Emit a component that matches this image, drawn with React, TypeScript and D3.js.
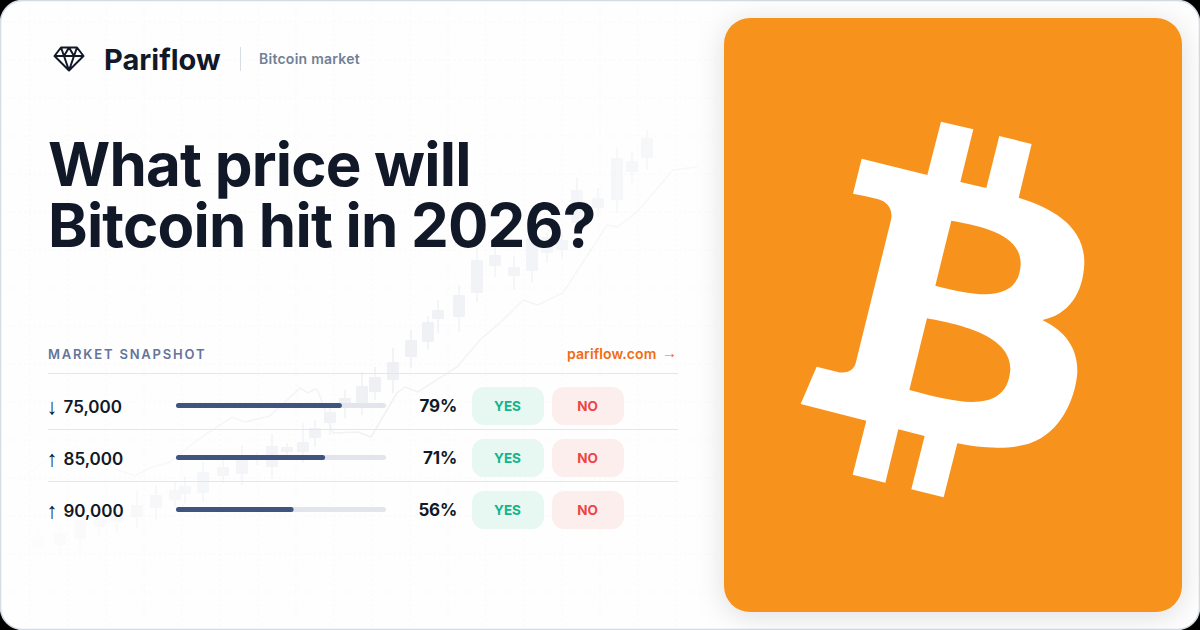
import * as d3 from 'd3'

const FONT = 'Inter, sans-serif'
const ARROW_FONT = '"Liberation Sans", sans-serif'

// snapshot table
const rowArrows = ['↓', '↑', '↑']
const rowTargets = ['75,000', '85,000', '90,000']
const rowPercents = [79, 71, 56]

// background candles, time in chart units, prices in chart units
const candleTime = [18, 40, 60, 79, 97, 117, 136, 155, 165, 183, 203, 222, 237, 252, 267, 283, 295, 310, 325, 342, 355, 373, 391, 408, 418, 439, 457, 475, 494, 512, 527, 542, 557, 578, 597, 612, 627]
const candleHigh = [32, 33, 48, 50, 53, 70, 75, 79, 83, 98, 100, 115, 108, 126, 117, 137, 140, 157, 170, 188, 193, 212, 230, 244, 260, 275, 312, 322, 304, 330, 328, 327, 383, 372, 412, 408, 430]
const candleTop = [23, 27, 40, 42, 45, 55, 65, 70, 74, 88, 93, 100, 105, 114, 113, 118, 132, 148, 162, 174, 183, 198, 220, 238, 250, 265, 300, 305, 293, 322, 323, 320, 370, 362, 402, 399, 422]
const candleBottom = [12, 15, 21, 33, 38, 43, 52, 60, 66, 67, 84, 86, 102, 93, 108, 108, 122, 137, 155, 155, 168, 180, 203, 218, 241, 243, 267, 294, 284, 289, 307, 310, 337, 352, 360, 388, 402]
const candleLow = [4, 7, 12, 23, 27, 32, 40, 53, 57, 58, 77, 75, 95, 81, 105, 97, 113, 125, 142, 145, 160, 167, 192, 210, 227, 228, 258, 283, 270, 278, 297, 302, 325, 343, 347, 377, 390]

// background trend line
const trendTime = [-13, 23, 57, 70, 93, 115, 130, 150, 180, 212, 225, 250, 267, 280, 288, 295, 298, 313, 338, 351, 377, 385, 398, 437, 460, 483, 503, 518, 543, 587, 597, 617, 653, 677]
const trendValue = [68, 98, 113, 105, 92, 84, 92, 98, 122, 143, 138, 144, 160, 172, 167, 171, 169, 127, 128, 123, 167, 173, 168, 193, 220, 240, 260, 255, 267, 335, 333, 348, 390, 393]

const gridX = d3.range(30, 700, 38)
const gridY = d3.range(22, 620, 38)

const BITCOIN_PATH =
  'M483 65L580 88L541 246L619 264L658 108L755 132L716 293C820 325 915 380 913 490C910 580 865 645 787 660C860 695 895 750 892 820C885 900 840 1000 750 1030C690 1050 600 1045 532 1030L491 1192L394 1168L434 1008L355 988L316 1148L218 1124L259 962L62 912L110 800L170 815C195 822 220 815 227 790L333 360C340 325 320 305 295 298C270 290 245 286 219 281L245 176L442 225Z' +
  'M514 362C600 378 725 400 722 495C715 610 590 590 466 557Z' +
  'M441 655C550 675 695 710 691 810C680 950 520 905 388 870Z'

const x = d3.scaleLinear().domain([-20, 680]).range([0, 700])
const y = d3.scaleLinear().domain([0, 500]).range([560, 60])
const progress = d3.scaleLinear().domain([0, 100]).range([0, 210])
const rowBand = d3.scaleBand<number>().domain(d3.range(rowTargets.length)).range([381, 537])

const trendLine = d3
  .line<number>()
  .x((t) => x(t))
  .y((_, i) => y(trendValue[i]))

const App = () => {
  return (
    <svg
      width={1200}
      height={630}
      viewBox="0 0 1200 630"
      style={{ position: 'fixed', left: 0, top: 0, display: 'block' }}
    >
      <defs>
        <linearGradient id="fade" gradientUnits="userSpaceOnUse" x1="10" y1="0" x2="680" y2="0">
          <stop offset="0" stopColor="#fff" stopOpacity={0.05} />
          <stop offset="0.3" stopColor="#fff" stopOpacity={0.6} />
          <stop offset="0.55" stopColor="#fff" stopOpacity={1} />
          <stop offset="1" stopColor="#fff" stopOpacity={0.45} />
        </linearGradient>
        <mask id="fadeMask" maskUnits="userSpaceOnUse" x="0" y="0" width="720" height="630">
          <rect width={720} height={630} fill="url(#fade)" />
        </mask>
        <filter id="cardShadow" x="-20%" y="-20%" width="140%" height="140%">
          <feDropShadow dx="0" dy="4" stdDeviation="14" floodColor="#0f172a" floodOpacity={0.13} />
        </filter>
      </defs>

      <rect width={1200} height={630} fill="#000" />
      <rect x={0.5} y={0.5} width={1199} height={629} rx={22} fill="#fefefe" stroke="#d5dbe4" strokeWidth={1.5} />

      <g stroke="#f7f8fa" strokeWidth={1} strokeDasharray="2 3">
        {gridX.map((gx) => (
          <line key={gx} x1={gx} x2={gx} y1={4} y2={626} />
        ))}
        {gridY.map((gy) => (
          <line key={gy} x1={4} x2={716} y1={gy} y2={gy} />
        ))}
      </g>

      <g mask="url(#fadeMask)">
        <path d={trendLine(trendTime) ?? ''} fill="none" stroke="#eff1f4" strokeWidth={1.5} />
        {candleTime.map((t, i) => (
          <g key={t} fill="#eef0f4">
            <rect x={x(t) - 0.75} width={1.5} y={y(candleHigh[i])} height={y(candleLow[i]) - y(candleHigh[i])} />
            <rect x={x(t) - 6} width={12} y={y(candleTop[i])} height={y(candleBottom[i]) - y(candleTop[i])} rx={1} />
          </g>
        ))}
      </g>

      <path
        d="M61 47.5H77L83.5 56L69 70.5L54.5 56ZM54.5 56H83.5M61 47.5L64 56L69 47.5L74 56L77 47.5M64 56L69 70.5L74 56"
        fill="none"
        stroke="#111827"
        strokeWidth={2}
        strokeLinejoin="round"
      />
      <text x={104} y={69.5} fontFamily={FONT} fontSize={29} fontWeight={700} fill="#111827">
        Pariflow
      </text>
      <line x1={240.5} x2={240.5} y1={47} y2={71} stroke="#d8dde5" />
      <text x={259} y={64} fontFamily={FONT} fontSize={14} fontWeight={600} letterSpacing={0.25} fill="#718096">
        Bitcoin market
      </text>

      <g fontFamily={FONT} fontSize={60} fontWeight={700} letterSpacing={-0.8} fill="#111827">
        <text x={48} y={186}>What price will</text>
        <text x={48} y={247}>Bitcoin hit in 2026?</text>
      </g>

      <text x={48} y={359} fontFamily={FONT} fontSize={13} fontWeight={600} letterSpacing={1.8} fill="#64749a">
        MARKET SNAPSHOT
      </text>
      <text x={567} y={359} fontFamily={FONT} fontSize={14} fontWeight={600} letterSpacing={0.1} fill="#f26b10">
        pariflow.com
      </text>
      <text x={662} y={358} fontFamily={ARROW_FONT} fontSize={15} fontWeight={700} fill="#f26b10">
        →
      </text>
      <line x1={48} x2={678} y1={373.5} y2={373.5} stroke="#e4e6ea" />

      {rowTargets.map((target, i) => {
        const top = rowBand(i) ?? 0
        const mid = top + rowBand.bandwidth() / 2 - 1
        return (
          <g key={target}>
            {i > 0 && <line x1={48} x2={678} y1={top - 3.5} y2={top - 3.5} stroke="#e4e6ea" />}
            <text x={46.5} y={mid + 8} fontFamily={ARROW_FONT} fontSize={22} fontWeight={700} fill="#111827">
              {rowArrows[i]}
            </text>
            <text x={63.5} y={mid + 7} fontFamily={FONT} fontSize={17} fontWeight={600} fill="#111827">
              {target}
            </text>
            <rect x={176} y={mid - 3} width={progress(100)} height={5} rx={2.5} fill="#e2e6ec" />
            <rect x={176} y={mid - 3} width={progress(rowPercents[i])} height={5} rx={2.5} fill="#3f5580" />
            <text x={457} y={mid + 6} textAnchor="end" fontFamily={FONT} fontSize={17} fontWeight={700} letterSpacing={-0.2} fill="#111827">
              {rowPercents[i]}%
            </text>
            <rect x={472} y={mid - 19} width={72} height={38} rx={12} fill="#e7f7f2" />
            <text x={507.5} y={mid + 5} textAnchor="middle" fontFamily={FONT} fontSize={13.5} fontWeight={700} fill="#10b48a">
              YES
            </text>
            <rect x={552} y={mid - 19} width={72} height={38} rx={12} fill="#fdeeee" />
            <text x={587.5} y={mid + 5} textAnchor="middle" fontFamily={FONT} fontSize={13.5} fontWeight={700} fill="#ef4444">
              NO
            </text>
          </g>
        )
      })}

      <rect x={724} y={18} width={458} height={594} rx={26} fill="#f7931e" filter="url(#cardShadow)" />
      <path d={BITCOIN_PATH} transform="translate(780 100) scale(0.3333)" fill="#fff" fillRule="evenodd" />
    </svg>
  )
}

export default App
